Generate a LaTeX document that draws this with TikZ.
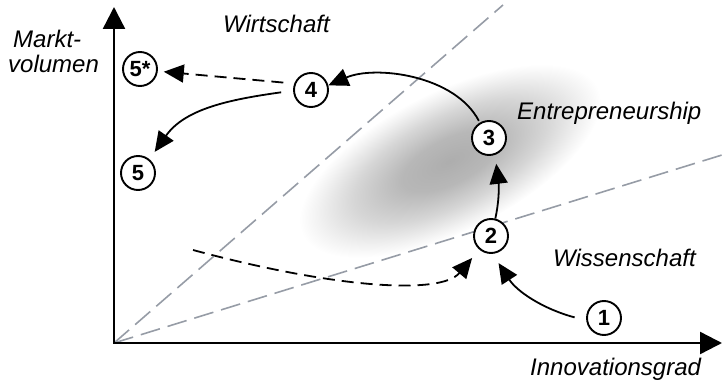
\documentclass[tikz,border=0pt]{standalone}
\usepackage{fontspec}
\setmainfont{Liberation Sans}
\usetikzlibrary{arrows.meta}
\definecolor{guide}{RGB}{150,156,166}
\pgfdeclareradialshading{blob}{\pgfpoint{0bp}{0bp}}{%
  color(0bp)=(black!32); color(8bp)=(black!28); color(16bp)=(black!16);
  color(22bp)=(black!5); color(25bp)=(white); color(50bp)=(white)}
\begin{document}
\begin{tikzpicture}[x=1pt,y=1pt,
  num/.style={circle,draw,line width=1.9pt,fill=white,minimum size=34pt,inner sep=0pt,
    font=\fontsize{22}{22}\selectfont\bfseries},
  lbl/.style={anchor=base west,inner sep=0pt,font=\fontsize{24}{28}\selectfont\itshape},
  axis/.style={line width=2.4pt,{Triangle[length=22pt,width=22pt]}-{Triangle[length=22pt,width=22pt]}},
  arr/.style={line width=1.8pt,-{Triangle[length=20pt,width=18pt]}},
  dasharr/.style={arr,dash pattern=on 12pt off 7pt},
  guideline/.style={guide,line width=1.6pt,dash pattern=on 20pt off 8pt}
]
\useasboundingbox (0,0) rectangle (723,386);
\begin{scope}[transform canvas={shift={(450,225)},rotate=26.6}]
  \shade[shading=blob] (0,0) ellipse [x radius=165,y radius=70];
\end{scope}
\coordinate (O) at (114,43);
\coordinate (ytip) at (114,379);
\coordinate (xtip) at (722,43);
\coordinate (gA) at (503,381);
\coordinate (gB) at (722,231);
\coordinate (dstart) at (193,136);
\draw[guideline] (O) -- (gA);
\draw[guideline] (O) -- (gB);
\draw[axis] (ytip) -- (O) -- (xtip);
\node[num] (n1) at (604,68) {1};
\node[num] (n2) at (491,150) {2};
\node[num] (n3) at (489,248) {3};
\node[num] (n4) at (311,296) {4};
\node[num] (n5s) at (140,317) {5*};
\node[num] (n5) at (138,213) {5};
\node[lbl] (wi) at (223,353) {Wirtschaft};
\node[lbl] (mk) at (13,338) {Markt-};
\node[lbl] (vo) at (8,313) {volumen};
\node[lbl] (en) at (517,266) {Entrepreneurship};
\node[lbl] (ws) at (553,120) {Wissenschaft};
\node[lbl] (ig) at (530,11) {Innovationsgrad};
\draw[arr,shorten <=12pt,shorten >=11pt] (n1.188) to[out=165,in=-57] (n2.-85);
\draw[arr,shorten >=9pt] (n2.76) to[out=78,in=-83] (n3.-70);
\draw[arr,shorten <=2pt] (n3.121) .. controls (455,311) and (375,321) .. (n4.15);
\draw[dasharr,shorten <=11pt,shorten >=6pt] (n4.159) -- (n5s.-7);
\draw[arr,shorten <=12pt,shorten >=9pt] (n4.182) to[out=188,in=55] (n5.50);
\draw[dasharr,shorten >=11pt] (dstart) .. controls (330,99) and (440,90) .. (n2.229);
\end{tikzpicture}
\end{document}
